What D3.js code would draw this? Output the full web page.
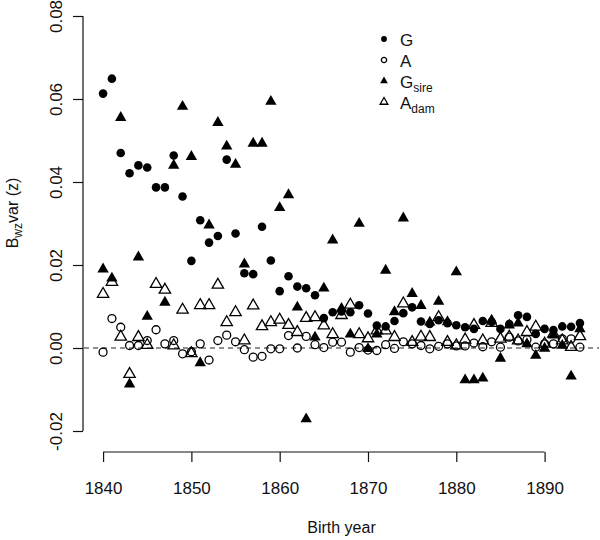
<!DOCTYPE html>
<html>
<head>
<meta charset="utf-8">
<script src="https://cdn.jsdelivr.net/npm/d3@7"></script>
<style>
  body { margin: 0; background: #fff; }
  text { font-family: "Liberation Sans", Arial, sans-serif; fill: #111; }
</style>
</head>
<body>
<div id="chart"></div>
<script>
// birth years, one value per year for each series
let years = [1840, 1841, 1842, 1843, 1844, 1845, 1846, 1847, 1848, 1849,
             1850, 1851, 1852, 1853, 1854, 1855, 1856, 1857, 1858, 1859,
             1860, 1861, 1862, 1863, 1864, 1865, 1866, 1867, 1868, 1869,
             1870, 1871, 1872, 1873, 1874, 1875, 1876, 1877, 1878, 1879,
             1880, 1881, 1882, 1883, 1884, 1885, 1886, 1887, 1888, 1889,
             1890, 1891, 1892, 1893, 1894]

let G = [0.0613, 0.0649, 0.0470, 0.0421, 0.0440, 0.0435, 0.0387, 0.0387, 0.0464, 0.0365,
         0.0210, 0.0308, 0.0254, 0.0270, 0.0454, 0.0276, 0.0180, 0.0178, 0.0292, 0.0211,
         0.0137, 0.0173, 0.0148, 0.0144, 0.0127, 0.0072, 0.0086, 0.0088, 0.0086, 0.0103,
         0.0083, 0.0054, 0.0052, 0.0065, 0.0084, 0.0098, 0.0064, 0.0058, 0.0067, 0.0060,
         0.0055, 0.0050, 0.0046, 0.0065, 0.0063, 0.0046, 0.0058, 0.0079, 0.0075, 0.0034,
         0.0046, 0.0043, 0.0052, 0.0051, 0.0060]

let A = [-0.0010, 0.0071, 0.0050, 0.0006, 0.0006, 0.0018, 0.0044, 0.0010, 0.0018, -0.0014,
         -0.0009, 0.0010, -0.0029, 0.0018, 0.0031, 0.0015, -0.0004, -0.0022, -0.0020, -0.0002,
         -0.0002, 0.0030, 0.0000, 0.0028, 0.0008, 0.0001, 0.0014, 0.0014, -0.0010, 0.0001,
         -0.0005, -0.0006, 0.0008, -0.0001, 0.0015, 0.0010, 0.0006, -0.0002, 0.0004, 0.0010,
         0.0005, 0.0005, 0.0012, 0.0003, 0.0015, 0.0002, 0.0026, 0.0017, 0.0020, 0.0002,
         0.0010, 0.0010, 0.0022, 0.0022, 0.0002]

let Gsire = [0.0190, 0.0168, 0.0555, -0.0087, 0.0219, 0.0076, null, 0.0110, 0.0440, 0.0582,
             0.0461, -0.0036, 0.0296, 0.0543, 0.0486, 0.0442, 0.0202, 0.0493, 0.0493, 0.0594,
             0.0338, 0.0369, 0.0098, -0.0171, 0.0026, 0.0144, 0.0260, 0.0095, 0.0033, 0.0300,
             -0.0002, 0.0033, 0.0187, 0.0087, 0.0313, 0.0131, 0.0102, 0.0062, 0.0112, 0.0063,
             0.0183, -0.0077, -0.0077, -0.0073, 0.0067, -0.0025, 0.0055, 0.0060, 0.0010, -0.0018,
             -0.0001, 0.0031, 0.0006, -0.0068, 0.0046]

let Adam = [0.0130, 0.0159, 0.0027, -0.0063, 0.0026, 0.0007, 0.0154, 0.0140, 0.0006, 0.0092,
            -0.0013, 0.0103, 0.0103, 0.0152, 0.0062, 0.0086, 0.0018, 0.0102, 0.0052, 0.0062,
            0.0068, 0.0055, 0.0038, 0.0072, 0.0074, 0.0054, 0.0033, 0.0079, 0.0104, 0.0033,
            0.0023, 0.0042, 0.0042, 0.0026, 0.0107, 0.0014, 0.0027, 0.0026, 0.0074, 0.0014,
            0.0006, 0.0020, 0.0055, 0.0018, 0.0060, 0.0022, 0.0027, 0.0018, 0.0038, 0.0051,
            0.0010, 0.0034, 0.0018, 0.0002, 0.0028]

let xTicks = [1840, 1850, 1860, 1870, 1880, 1890]
let yTicks = [-0.02, 0.00, 0.02, 0.04, 0.06, 0.08]

let width = 600,
    height = 540

let svg = d3.select("#chart").append("svg")
    .attr("width", width)
    .attr("height", height)

// R style: plot region padded 4% beyond the data range
let xScale = d3.scaleLinear()
    .domain([1837.84, 1896.16])
    .range([84, 599])
let yScale = d3.scaleLinear()
    .domain([-0.02, 0.08])
    .range([431, 16])

// x axis, line only spans the ticks
let xAxis = svg.append("g")
    .attr("transform", "translate(0,452)")
    .call(d3.axisBottom(xScale).tickValues(xTicks).tickSize(10).tickPadding(0).tickFormat(d3.format("d")))
xAxis.select(".domain").remove()
xAxis.append("line")
    .attr("x1", xScale(xTicks[0])).attr("x2", xScale(xTicks[xTicks.length - 1]))
    .attr("stroke", "#111").attr("stroke-width", 1.2)
xAxis.selectAll(".tick line").attr("stroke", "#111").attr("stroke-width", 1.2)
xAxis.selectAll(".tick text")
    .attr("y", 42).attr("dy", 0)
    .style("font-size", "17px")
    .style("font-family", "Liberation Sans, Arial, sans-serif")
    .attr("fill", "#111")

// y axis with rotated labels
let yAxis = svg.append("g")
    .attr("transform", "translate(83,0)")
    .call(d3.axisLeft(yScale).tickValues(yTicks).tickSize(10).tickFormat(function(d) { return d.toFixed(2); }))
yAxis.select(".domain").remove()
yAxis.append("line")
    .attr("y1", yScale(yTicks[0])).attr("y2", yScale(yTicks[yTicks.length - 1]))
    .attr("stroke", "#111").attr("stroke-width", 1.2)
yAxis.selectAll(".tick line").attr("stroke", "#111").attr("stroke-width", 1.2)
yAxis.selectAll(".tick text")
    .attr("transform", "rotate(-90)")
    .attr("x", 0).attr("y", -21).attr("dy", 0)
    .attr("text-anchor", "middle")
    .style("font-size", "17px")
    .style("font-family", "Liberation Sans, Arial, sans-serif")
    .attr("fill", "#111")

// zero reference line
svg.append("line")
    .attr("x1", xScale.range()[0]).attr("x2", xScale.range()[1])
    .attr("y1", yScale(0)).attr("y2", yScale(0))
    .attr("stroke", "#222").attr("stroke-width", 1.2)
    .attr("stroke-dasharray", "5,4")

// axis titles
svg.append("text")
    .attr("x", (xScale.range()[0] + xScale.range()[1]) / 2)
    .attr("y", 533)
    .attr("text-anchor", "middle")
    .style("font-size", "16px")
    .text("Birth year")

let ylab = svg.append("text")
    .attr("transform", "translate(18,213) rotate(-90)")
    .attr("text-anchor", "middle")
    .style("font-size", "16px")
ylab.append("tspan").text("B")
ylab.append("tspan").attr("dy", 4).style("font-size", "12px").text("wz")
ylab.append("tspan").attr("dy", -4).text("var (z)")

// points
let series = [
    { name: "G", values: G, shape: d3.symbolCircle, size: 58, fill: "#000", stroke: "none" },
    { name: "A", values: A, shape: d3.symbolCircle, size: 50, fill: "none", stroke: "#000" },
    { name: "Gsire", values: Gsire, shape: d3.symbolTriangle, size: 56, fill: "#000", stroke: "none" },
    { name: "Adam", values: Adam, shape: d3.symbolTriangle, size: 56, fill: "none", stroke: "#000" }
]

series.forEach(function(s) {
    let pts = years.map(function(y, i) { return { year: y, value: s.values[i] }; })
        .filter(function(d) { return d.value != null; })
    svg.append("g").selectAll("path")
        .data(pts)
        .enter()
        .append("path")
        .attr("d", d3.symbol().type(s.shape).size(s.size))
        .attr("transform", function(d) { return "translate(" + xScale(d.year) + "," + yScale(d.value) + ")"; })
        .attr("fill", s.fill)
        .attr("stroke", s.stroke)
        .attr("stroke-width", 1.3)
})

// legend
let legendRows = [
    { main: "G", sub: "", shape: d3.symbolCircle, size: 26, fill: "#000", stroke: "none" },
    { main: "A", sub: "", shape: d3.symbolCircle, size: 22, fill: "none", stroke: "#000" },
    { main: "G", sub: "sire", shape: d3.symbolTriangle, size: 26, fill: "#000", stroke: "none" },
    { main: "A", sub: "dam", shape: d3.symbolTriangle, size: 26, fill: "none", stroke: "#000" }
]
let legend = svg.append("g")
legendRows.forEach(function(r, i) {
    let cy = 39 + i * 21
    legend.append("path")
        .attr("d", d3.symbol().type(r.shape).size(r.size))
        .attr("transform", "translate(384," + cy + ")")
        .attr("fill", r.fill)
        .attr("stroke", r.stroke)
        .attr("stroke-width", 1.3)
    let t = legend.append("text")
        .attr("x", 400)
        .attr("y", cy + 7)
        .style("font-size", "17px")
    t.append("tspan").text(r.main)
    if (r.sub) {
        t.append("tspan").attr("dy", 4).style("font-size", "12px").text(r.sub)
    }
})
</script>
</body>
</html>
